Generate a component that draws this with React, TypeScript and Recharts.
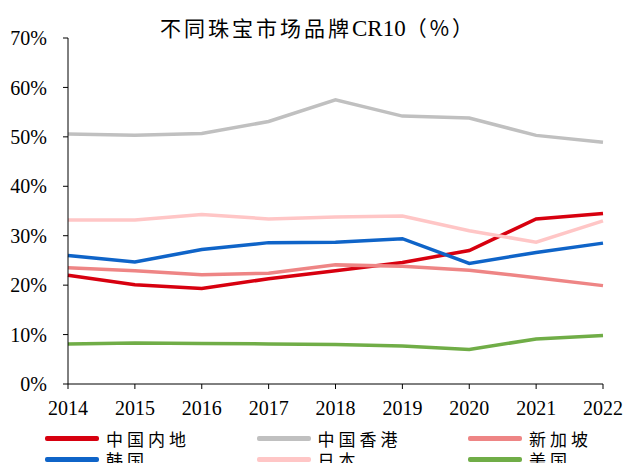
import { LineChart, Line, XAxis, YAxis, Legend } from "recharts";

const years = ["2014", "2015", "2016", "2017", "2018", "2019", "2020", "2021", "2022"];

const mainland = [22.0, 20.1, 19.3, 21.3, 22.9, 24.6, 27.0, 33.4, 34.5];
const hongkong = [50.6, 50.3, 50.7, 53.1, 57.5, 54.2, 53.8, 50.3, 48.9];
const singapore = [23.5, 22.9, 22.1, 22.4, 24.1, 23.8, 23.0, 21.5, 19.9];
const korea = [26.0, 24.7, 27.2, 28.6, 28.7, 29.4, 24.4, 26.6, 28.5];
const japan = [33.2, 33.2, 34.3, 33.4, 33.8, 34.0, 31.0, 28.7, 33.0];
const usa = [8.1, 8.3, 8.2, 8.1, 8.0, 7.7, 7.0, 9.1, 9.8];

const yTicks = [0, 10, 20, 30, 40, 50, 60, 70];

const series = [
  { key: "mainland", name: "中国内地", values: mainland, color: "#D7000F" },
  { key: "hongkong", name: "中国香港", values: hongkong, color: "#C0C0C0" },
  { key: "singapore", name: "新加坡", values: singapore, color: "#EE8585" },
  { key: "korea", name: "韩国", values: korea, color: "#0F64C8" },
  { key: "japan", name: "日本", values: japan, color: "#FFC6C6" },
  { key: "usa", name: "美国", values: usa, color: "#70AD47" },
];

const data = years.map((year, i) => {
  const row: Record<string, string | number> = { year };
  series.forEach((s) => {
    row[s.key] = s.values[i];
  });
  return row;
});

const serif = '"Liberation Serif", "Times New Roman", "Noto Sans CJK SC", serif';
const cjk = '"Noto Sans CJK SC", "Liberation Serif", serif';

// keep the legend in the same order as the series list
function LegendBox(props: any) {
  const payload = [...(props.payload || [])].sort(
    (a: any, b: any) =>
      series.findIndex((s) => s.name === a.value) - series.findIndex((s) => s.name === b.value)
  );
  return (
    <div style={{ display: "flex", flexWrap: "wrap", width: 640, marginLeft: 45 }}>
      {payload.map((p: any) => (
        <div key={p.value} style={{ width: 211.5, height: 21, display: "flex", alignItems: "center" }}>
          <div style={{ width: 54, height: 4.5, background: p.color, borderRadius: 2, marginRight: 7 }} />
          <span style={{ fontFamily: cjk, fontSize: 17, letterSpacing: 4, color: "#000", lineHeight: "21px" }}>
            {p.value}
          </span>
        </div>
      ))}
    </div>
  );
}

export default function App() {
  return (
    <div style={{ position: "absolute", left: 0, top: 0, width: 625, height: 463, background: "#fff", overflow: "hidden" }}>
      <div
        style={{
          position: "absolute",
          top: 12,
          left: 0,
          width: 636,
          textAlign: "center",
          fontFamily: cjk,
          fontSize: 21,
          letterSpacing: 3,
          color: "#000",
          lineHeight: "30px",
        }}
      >
        不同珠宝市场品牌<span style={{ fontFamily: serif, fontSize: 23, letterSpacing: 0 }}>CR10</span>（%）
      </div>
      <LineChart width={625} height={463} data={data} margin={{ top: 38, right: 22, left: 8, bottom: 7 }}>
        <XAxis
          dataKey="year"
          height={30}
          tickSize={5}
          tickMargin={12}
          interval={0}
          axisLine={{ stroke: "#000" }}
          tickLine={{ stroke: "#000" }}
          tick={{ fill: "#000", fontSize: 20, fontFamily: serif }}
        />
        <YAxis
          width={60}
          domain={[0, 70]}
          ticks={yTicks}
          tickSize={5}
          tickMargin={16}
          tickFormatter={(v) => `${v}%`}
          axisLine={{ stroke: "#000" }}
          tickLine={{ stroke: "#000" }}
          tick={{ fill: "#000", fontSize: 20, fontFamily: serif }}
        />
        <Legend
          content={<LegendBox />}
          wrapperStyle={{ position: "absolute", top: 428, left: 0, width: 625 }}
        />
        {series.map((s) => (
          <Line
            key={s.key}
            dataKey={s.key}
            name={s.name}
            stroke={s.color}
            strokeWidth={3.5}
            dot={false}
            activeDot={false}
            isAnimationActive={false}
          />
        ))}
      </LineChart>
    </div>
  );
}
